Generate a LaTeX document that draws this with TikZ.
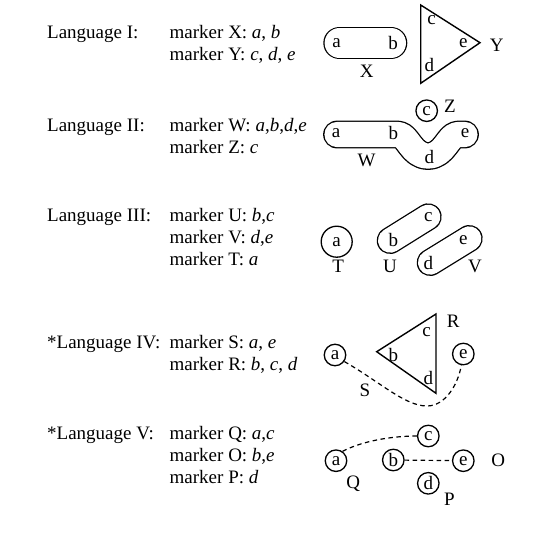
\documentclass[tikz,border=0pt]{standalone}
\usepackage{fontspec}
\setmainfont{Liberation Serif}
\begin{document}
\begin{tikzpicture}[x=1pt,y=-1pt,
  every node/.style={font=\fontsize{19}{22}\selectfont},
  txt/.style={anchor=base west, inner sep=0pt},
  lab/.style={inner sep=0pt},
  circ/.style={draw, circle, line width=1.3pt, minimum size=21.5pt, inner sep=0pt},
  bigcirc/.style={draw, circle, line width=1.3pt, minimum size=31pt, inner sep=0pt},
  shapeline/.style={line width=1.4pt, line join=miter},
  blobA/.style={draw, line width=1.3pt, double=white, double distance=30pt, line cap=round, line join=round},
  blobB/.style={draw, line width=1.3pt, double=white, double distance=25.2pt, line cap=round, line join=round},
  blobC/.style={draw, line width=1.3pt, double=white, double distance=24.4pt, line cap=round, line join=round},
  dashline/.style={line width=1.2pt, dash pattern=on 4.5pt off 3.5pt}
]
\useasboundingbox (0,0) rectangle (542,550);

% ---------- texts ----------
\node[txt] (l1) at (47,38) {Language I:};
\node[txt] (m1x) at (169.5,38) {marker X: \textit{a}, \textit{b}};
\node[txt] (m1y) at (169.5,60) {marker Y: \textit{c}, \textit{d}, \textit{e}};

\node[txt] (l2) at (47,131) {Language II:};
\node[txt] (m2w) at (169.5,131) {marker W: \textit{a},\textit{b},\textit{d},\textit{e}};
\node[txt] (m2z) at (169.5,153) {marker Z: \textit{c}};

\node[txt] (l3) at (47,221) {Language III:};
\node[txt] (m3u) at (169.5,221) {marker U: \textit{b},\textit{c}};
\node[txt] (m3v) at (169.5,243) {marker V: \textit{d},\textit{e}};
\node[txt] (m3t) at (169.5,265) {marker T: \textit{a}};

\node[txt] (l4) at (47,348) {*Language IV:};
\node[txt] (m4s) at (169.5,348) {marker S: \textit{a}, \textit{e}};
\node[txt] (m4r) at (169.5,370) {marker R: \textit{b}, \textit{c}, \textit{d}};

\node[txt] (l5) at (47,439) {*Language V:};
\node[txt] (m5q) at (169.5,439) {marker Q: \textit{a},\textit{c}};
\node[txt] (m5o) at (169.5,461) {marker O: \textit{b},\textit{e}};
\node[txt] (m5p) at (169.5,483) {marker P: \textit{d}};

% ---------- Language I ----------
\draw[blobA] (339.6,43) -- (391,43);
\draw[shapeline] (420.7,5) -- (480,42.7) -- (420.7,83.3) -- cycle;
\node[lab] (a1) at (336.7,43.3) {a};
\node[lab] (b1) at (393,42.7) {b};
\node[lab] (X1) at (366.7,71.7) {X};
\node[lab] (c1) at (431.7,20) {c};
\node[lab] (e1) at (463.3,43.3) {e};
\node[lab] (d1) at (429.3,65) {d};
\node[lab] (Y1) at (496.7,45) {Y};

% ---------- Language II ----------
\draw[blobB] (337,134.5) -- (398,134.5)
  .. controls (408,134.5) and (411,156) .. (428,156)
  .. controls (445,156) and (448,134.5) .. (458,134.5) -- (465,134.5);
\node[lab] (a2) at (336,133.3) {a};
\node[lab] (b2) at (393.3,132.7) {b};
\node[lab] (W2) at (366.7,160.7) {W};
\node[circ] (c2) at (426.7,110.7) {c};
\node[lab] (Z2) at (450,106.7) {Z};
\node[lab] (e2) at (465,133.3) {e};
\node[lab] (d2) at (429.3,156.7) {d};

% ---------- Language III ----------
\draw[blobC] (390.2,240.5) -- (428.2,216.8);
\draw[blobC] (430.2,262.5) -- (469.2,238.5);
\node[bigcirc] (a3) at (336.7,241.7) {a};
\node[lab] (T3) at (338.3,266.7) {T};
\node[lab] (b3) at (393.3,240) {b};
\node[lab] (c3) at (428.3,216.7) {c};
\node[lab] (U3) at (390,266.7) {U};
\node[lab] (d3) at (428.3,262.7) {d};
\node[lab] (e3) at (463.3,240) {e};
\node[lab] (V3) at (475,266) {V};

% ---------- Language IV ----------
\draw[shapeline] (376.7,351.7) -- (436,314) -- (436,393.3) -- cycle;
\node[circ] (a4) at (335,355) {a};
\node[circ] (e4) at (463.3,354) {e};
\node[lab] (b4) at (393.3,355) {b};
\node[lab] (c4) at (426.7,331.7) {c};
\node[lab] (d4) at (428.3,378.3) {d};
\node[lab] (R4) at (453.3,321.7) {R};
\node[lab] (S4) at (365,390.7) {S};
\draw[dashline] (a4.-35) .. controls (380,382) and (405,406) .. (427,406)
  .. controls (445,406) and (458,385) .. (e4.-100);

% ---------- Language V ----------
\node[circ] (a5) at (336,460.7) {a};
\node[circ] (b5) at (393.3,460) {b};
\node[circ] (c5) at (428.3,436) {c};
\node[circ] (e5) at (463.3,460.7) {e};
\node[circ] (d5) at (428.3,483.3) {d};
\node[lab] (O5) at (498.3,460) {O};
\node[lab] (Q5) at (353.3,483.3) {Q};
\node[lab] (P5) at (449.3,499.3) {P};
\draw[dashline] (a5.55) .. controls (362,441) and (392,436) .. (c5.west);
\draw[dashline] (b5) -- (e5);
\end{tikzpicture}
\end{document}
